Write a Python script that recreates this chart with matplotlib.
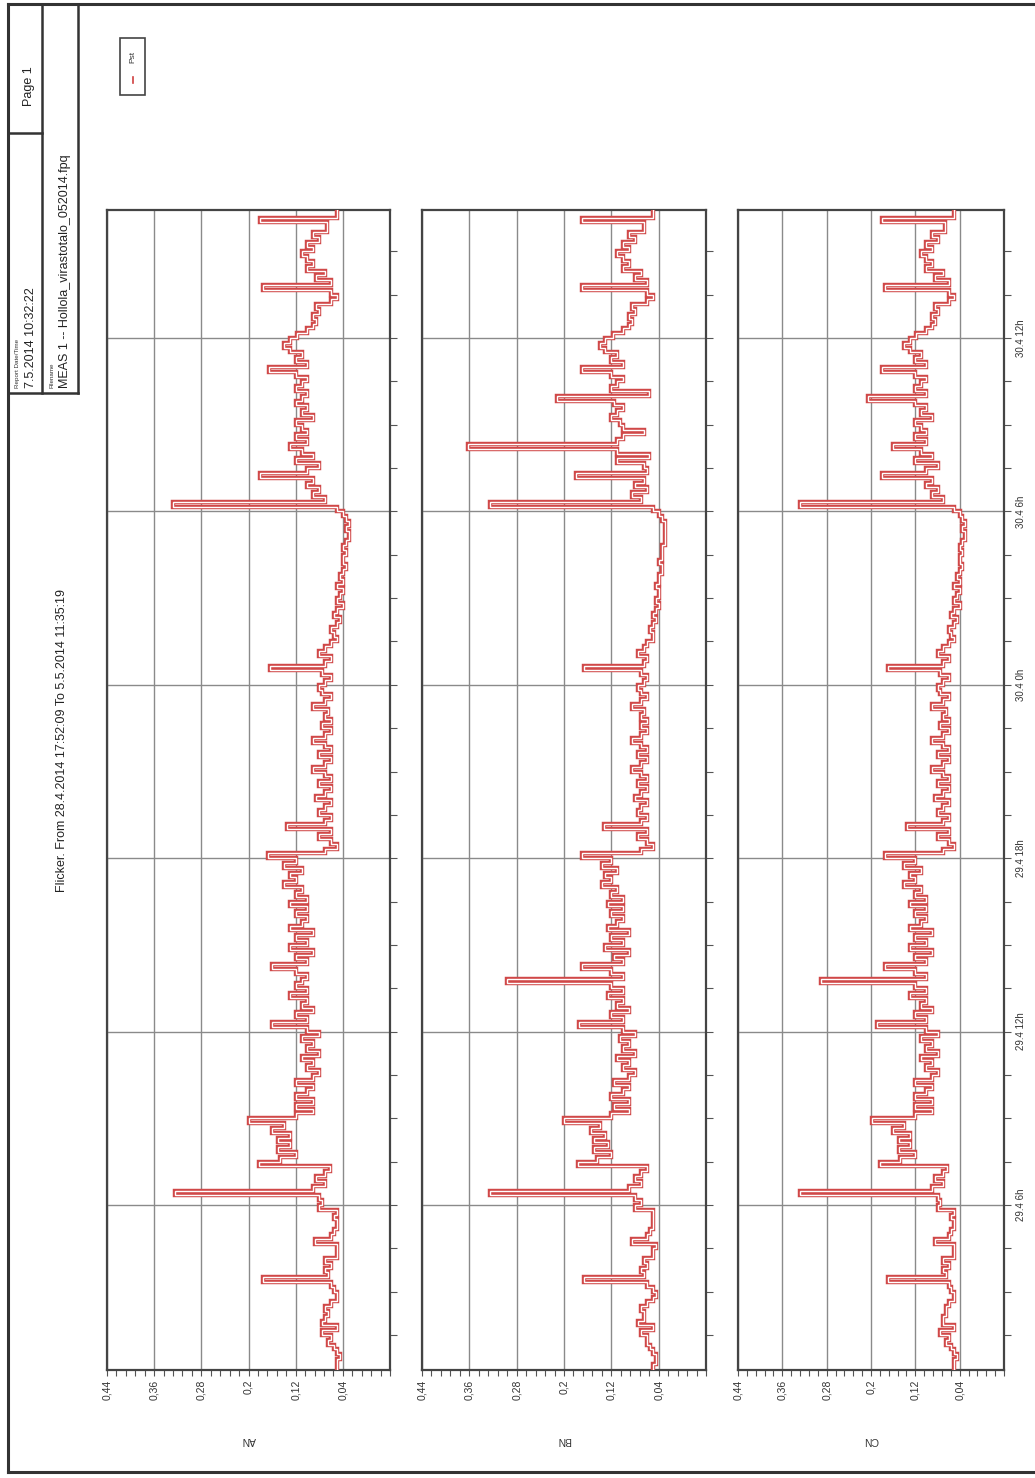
import numpy as np
import matplotlib
matplotlib.use("Agg")
import matplotlib.pyplot as plt
from matplotlib.lines import Line2D
from matplotlib.ticker import FixedLocator, MultipleLocator

plt.rcParams['font.family'] = ['Liberation Sans', 'DejaVu Sans']

# Pst, 10 min values, first value at 29.4 00:20
pst_an = [0.05, 0.05, 0.045, 0.05, 0.055, 0.065, 0.06, 0.075, 0.05, 0.075, 0.07, 0.065,
          0.07, 0.06, 0.05, 0.05, 0.055, 0.06, 0.175, 0.065, 0.07, 0.06, 0.07, 0.05,
          0.05, 0.05, 0.087, 0.06, 0.055, 0.05, 0.05, 0.055, 0.05, 0.08, 0.075, 0.08,
          0.325, 0.09, 0.07, 0.085, 0.07, 0.062, 0.182, 0.147, 0.12, 0.15, 0.13, 0.15,
          0.13, 0.16, 0.14, 0.2, 0.12, 0.09, 0.12, 0.09, 0.12, 0.1, 0.09, 0.12,
          0.09, 0.08, 0.1, 0.09, 0.11, 0.08, 0.1, 0.09, 0.11, 0.08, 0.1, 0.16,
          0.1, 0.12, 0.09, 0.11, 0.1, 0.13, 0.1, 0.12, 0.11, 0.1, 0.12, 0.16,
          0.1, 0.12, 0.09, 0.13, 0.1, 0.12, 0.09, 0.13, 0.11, 0.1, 0.12, 0.1,
          0.13, 0.1, 0.12, 0.11, 0.14, 0.12, 0.13, 0.11, 0.14, 0.12, 0.167, 0.07,
          0.05, 0.06, 0.08, 0.06, 0.135, 0.07, 0.06, 0.08, 0.07, 0.06, 0.085, 0.07,
          0.06, 0.08, 0.06, 0.07, 0.09, 0.07, 0.06, 0.08, 0.06, 0.07, 0.09, 0.07,
          0.06, 0.075, 0.06, 0.07, 0.065, 0.09, 0.07, 0.06, 0.075, 0.08, 0.07, 0.06,
          0.075, 0.164, 0.07, 0.06, 0.08, 0.07, 0.06, 0.05, 0.055, 0.06, 0.05, 0.045,
          0.055, 0.05, 0.04, 0.05, 0.045, 0.04, 0.05, 0.04, 0.045, 0.04, 0.035, 0.04,
          0.04, 0.035, 0.04, 0.035, 0.03, 0.03, 0.035, 0.03, 0.035, 0.04, 0.05, 0.328,
          0.07, 0.09, 0.08, 0.1, 0.09, 0.18, 0.1, 0.08, 0.12, 0.09, 0.11, 0.13,
          0.1, 0.12, 0.1, 0.11, 0.12, 0.09, 0.11, 0.1, 0.12, 0.11, 0.1, 0.12,
          0.11, 0.1, 0.12, 0.165, 0.1, 0.12, 0.11, 0.13, 0.14, 0.13, 0.118, 0.1,
          0.09, 0.085, 0.09, 0.08, 0.085, 0.06, 0.05, 0.06, 0.175, 0.06, 0.085, 0.07,
          0.1, 0.09, 0.1, 0.11, 0.09, 0.1, 0.08, 0.09, 0.067, 0.067, 0.18, 0.05, 0.05]

pst_bn = [0.05, 0.045, 0.045, 0.05, 0.055, 0.06, 0.06, 0.07, 0.05, 0.075, 0.065, 0.065,
          0.07, 0.06, 0.05, 0.045, 0.05, 0.06, 0.167, 0.065, 0.07, 0.06, 0.065, 0.05,
          0.05, 0.045, 0.085, 0.06, 0.055, 0.05, 0.05, 0.05, 0.05, 0.08, 0.07, 0.08,
          0.325, 0.09, 0.07, 0.08, 0.07, 0.06, 0.177, 0.145, 0.12, 0.15, 0.125, 0.15,
          0.13, 0.155, 0.14, 0.2, 0.12, 0.09, 0.115, 0.09, 0.12, 0.1, 0.09, 0.115,
          0.09, 0.08, 0.1, 0.09, 0.11, 0.08, 0.1, 0.09, 0.105, 0.08, 0.1, 0.175,
          0.1, 0.12, 0.09, 0.11, 0.1, 0.125, 0.1, 0.12, 0.296, 0.1, 0.12, 0.17,
          0.1, 0.115, 0.09, 0.13, 0.1, 0.12, 0.09, 0.125, 0.11, 0.1, 0.12, 0.1,
          0.125, 0.1, 0.12, 0.11, 0.135, 0.12, 0.13, 0.11, 0.135, 0.12, 0.17, 0.07,
          0.05, 0.06, 0.075, 0.06, 0.133, 0.07, 0.06, 0.075, 0.07, 0.06, 0.08, 0.07,
          0.06, 0.075, 0.06, 0.07, 0.085, 0.07, 0.06, 0.075, 0.06, 0.07, 0.085, 0.07,
          0.06, 0.07, 0.06, 0.07, 0.065, 0.085, 0.07, 0.06, 0.07, 0.075, 0.065, 0.06,
          0.07, 0.167, 0.065, 0.06, 0.075, 0.065, 0.06, 0.05, 0.05, 0.055, 0.05, 0.045,
          0.05, 0.045, 0.04, 0.045, 0.04, 0.04, 0.045, 0.04, 0.04, 0.035, 0.035, 0.04,
          0.035, 0.035, 0.035, 0.03, 0.03, 0.03, 0.03, 0.03, 0.035, 0.04, 0.05, 0.325,
          0.07, 0.085, 0.06, 0.08, 0.065, 0.179, 0.06, 0.065, 0.11, 0.057, 0.11, 0.362,
          0.11, 0.1, 0.065, 0.1, 0.105, 0.12, 0.11, 0.1, 0.116, 0.211, 0.057, 0.12,
          0.11, 0.1, 0.12, 0.17, 0.1, 0.12, 0.11, 0.13, 0.14, 0.13, 0.118, 0.1,
          0.09, 0.085, 0.09, 0.08, 0.085, 0.06, 0.05, 0.06, 0.17, 0.06, 0.08, 0.07,
          0.1, 0.09, 0.1, 0.11, 0.09, 0.1, 0.08, 0.09, 0.065, 0.065, 0.17, 0.05, 0.05]

pst_cn = [0.05, 0.05, 0.045, 0.05, 0.055, 0.065, 0.06, 0.075, 0.05, 0.07, 0.07, 0.065,
          0.065, 0.06, 0.05, 0.05, 0.055, 0.06, 0.17, 0.065, 0.07, 0.06, 0.07, 0.05,
          0.05, 0.05, 0.085, 0.06, 0.055, 0.05, 0.05, 0.055, 0.05, 0.08, 0.075, 0.08,
          0.328, 0.09, 0.07, 0.085, 0.07, 0.062, 0.184, 0.147, 0.12, 0.15, 0.13, 0.15,
          0.13, 0.16, 0.14, 0.198, 0.12, 0.09, 0.12, 0.09, 0.12, 0.1, 0.09, 0.12,
          0.09, 0.08, 0.1, 0.09, 0.11, 0.08, 0.1, 0.09, 0.11, 0.08, 0.1, 0.19,
          0.1, 0.12, 0.09, 0.11, 0.1, 0.13, 0.1, 0.12, 0.29, 0.1, 0.12, 0.175,
          0.1, 0.12, 0.09, 0.13, 0.1, 0.12, 0.09, 0.13, 0.11, 0.1, 0.12, 0.1,
          0.13, 0.1, 0.12, 0.11, 0.14, 0.12, 0.13, 0.11, 0.14, 0.12, 0.175, 0.07,
          0.05, 0.06, 0.08, 0.06, 0.135, 0.07, 0.06, 0.08, 0.07, 0.06, 0.085, 0.07,
          0.06, 0.08, 0.06, 0.07, 0.09, 0.07, 0.06, 0.08, 0.06, 0.07, 0.09, 0.07,
          0.06, 0.075, 0.06, 0.07, 0.065, 0.09, 0.07, 0.06, 0.075, 0.08, 0.07, 0.06,
          0.075, 0.169, 0.07, 0.06, 0.08, 0.07, 0.06, 0.05, 0.055, 0.06, 0.05, 0.045,
          0.055, 0.05, 0.04, 0.05, 0.045, 0.04, 0.05, 0.04, 0.045, 0.04, 0.035, 0.04,
          0.04, 0.035, 0.04, 0.035, 0.03, 0.03, 0.035, 0.03, 0.035, 0.04, 0.05, 0.328,
          0.07, 0.09, 0.08, 0.1, 0.09, 0.18, 0.1, 0.08, 0.12, 0.09, 0.11, 0.16,
          0.1, 0.12, 0.1, 0.11, 0.12, 0.09, 0.11, 0.1, 0.12, 0.205, 0.1, 0.12,
          0.11, 0.1, 0.12, 0.18, 0.1, 0.12, 0.11, 0.13, 0.14, 0.13, 0.118, 0.1,
          0.09, 0.085, 0.09, 0.08, 0.085, 0.06, 0.05, 0.06, 0.175, 0.06, 0.085, 0.07,
          0.1, 0.09, 0.1, 0.11, 0.09, 0.1, 0.08, 0.09, 0.067, 0.067, 0.18, 0.05, 0.05]

phases = ['AN', 'BN', 'CN']
series = [pst_an, pst_bn, pst_cn]

value_ticks = [0.44, 0.36, 0.28, 0.2, 0.12, 0.04]
value_labels = ['0,44', '0,36', '0,28', '0,2', '0,12', '0,04']
time_ticks = [6, 12, 18, 24, 30, 36]          # hours after 29.4 0h
time_labels = ['29.4 6h', '29.4 12h', '29.4 18h', '30.4 0h', '30.4 6h', '30.4 12h']
t_first = 1 / 3                               # 00:20
step_h = 1 / 6                                # 10 min

title = 'Flicker. From 28.4.2014 17:52:09 To 5.5.2014 11:35:19'

W, H = 1035, 1478
fig = plt.figure(figsize=(W / 100, H / 100), dpi=100)


def fx(x):
    return x / W


def fy(y):
    return 1 - y / H


def hline(x0, x1, y, lw=1.8, color='#333333'):
    fig.add_artist(Line2D([fx(x0), fx(x1)], [fy(y), fy(y)], color=color, lw=lw))


def vline(x, y0, y1, lw=1.8, color='#333333'):
    fig.add_artist(Line2D([fx(x), fx(x)], [fy(y0), fy(y1)], color=color, lw=lw))


# page frame and header block
vline(8, 4, 1472, lw=2.2)
hline(8, W, 4, lw=2.2)
hline(8, W, 1472, lw=2.2)
vline(42, 4, 393)
vline(78, 4, 393)
hline(8, 78, 393)
hline(8, 42, 133)

fig.text(fx(18), fy(388), 'Report Date/Time', rotation=90, fontsize=4.5,
         ha='center', va='bottom', color='#333333')
fig.text(fx(31), fy(388), '7.5.2014 10:32:22', rotation=90, fontsize=9,
         ha='center', va='bottom', color='#222222')
fig.text(fx(29), fy(86), 'Page 1', rotation=90, fontsize=9,
         ha='center', va='center', color='#222222')
fig.text(fx(52), fy(388), 'Filename', rotation=90, fontsize=4.5,
         ha='center', va='bottom', color='#333333')
fig.text(fx(65), fy(388), 'MEAS 1 -- Hollola_virastotalo_052014.fpq', rotation=90,
         fontsize=9, ha='center', va='bottom', color='#222222')
fig.text(fx(62), fy(740), title, rotation=90, fontsize=9,
         ha='center', va='center', color='#222222')

# legend box
fig.add_artist(plt.Rectangle((fx(120), fy(95)), 25 / W, 57 / H, fill=False,
                             ec='#444444', lw=1.2))
fig.add_artist(Line2D([fx(132.5), fx(132.5)], [fy(77), fy(83)], color='#d04040', lw=1.2))
fig.text(fx(132.5), fy(57), 'Pst', rotation=90, fontsize=6,
         ha='center', va='center', color='#333333')

panels = [(107, 390), (422, 706), (738, 1004)]
top, bottom = 210, 1370

edges = t_first + step_h * np.arange(len(pst_an) + 1)
for k, (name, vals) in enumerate(zip(phases, series)):
    x0, x1 = panels[k]
    ax = fig.add_axes([fx(x0), fy(bottom), (x1 - x0) / W, (bottom - top) / H])
    ax.set_xlim(0.44, -0.04)
    ax.set_ylim(0.29, 40.43)

    tt = np.repeat(edges, 2)[1:-1]
    vv = np.repeat(vals, 2)
    ax.plot(vv, tt, color='#d04848', lw=3.2, solid_joinstyle='miter', zorder=3)
    ax.plot(vv, tt, color='white', lw=1.0, solid_joinstyle='miter', zorder=4)

    ax.set_xticks(value_ticks)
    ax.set_xticklabels(value_labels, rotation=90, fontsize=7.5, color='#333333')
    ax.xaxis.set_minor_locator(FixedLocator(np.arange(-0.04, 0.441, 0.016)))
    ax.tick_params(axis='x', which='both', direction='out', length=4,
                   width=0.8, colors='#555555', pad=3)
    ax.tick_params(axis='x', labelcolor='#333333')

    ax.yaxis.tick_right()
    ax.set_yticks(time_ticks)
    ax.yaxis.set_minor_locator(MultipleLocator(1.5))
    ax.tick_params(axis='y', which='both', direction='out', length=5,
                   width=0.8, colors='#555555', left=False, right=True)
    if k == 2:
        ax.set_yticklabels(time_labels, rotation=90, va='center', fontsize=7,
                           color='#333333')
    else:
        ax.set_yticklabels([])

    ax.grid(True, which='major', color='#8a8a8a', lw=1.0)
    ax.set_axisbelow(True)
    for s in ax.spines.values():
        s.set_color('#444444')
        s.set_linewidth(1.6)

    fig.text(fx((x0 + x1) / 2), fy(1440), name, rotation=180, fontsize=7.5,
             ha='center', va='center', color='#333333')

fig.savefig('out.png', dpi=100)
